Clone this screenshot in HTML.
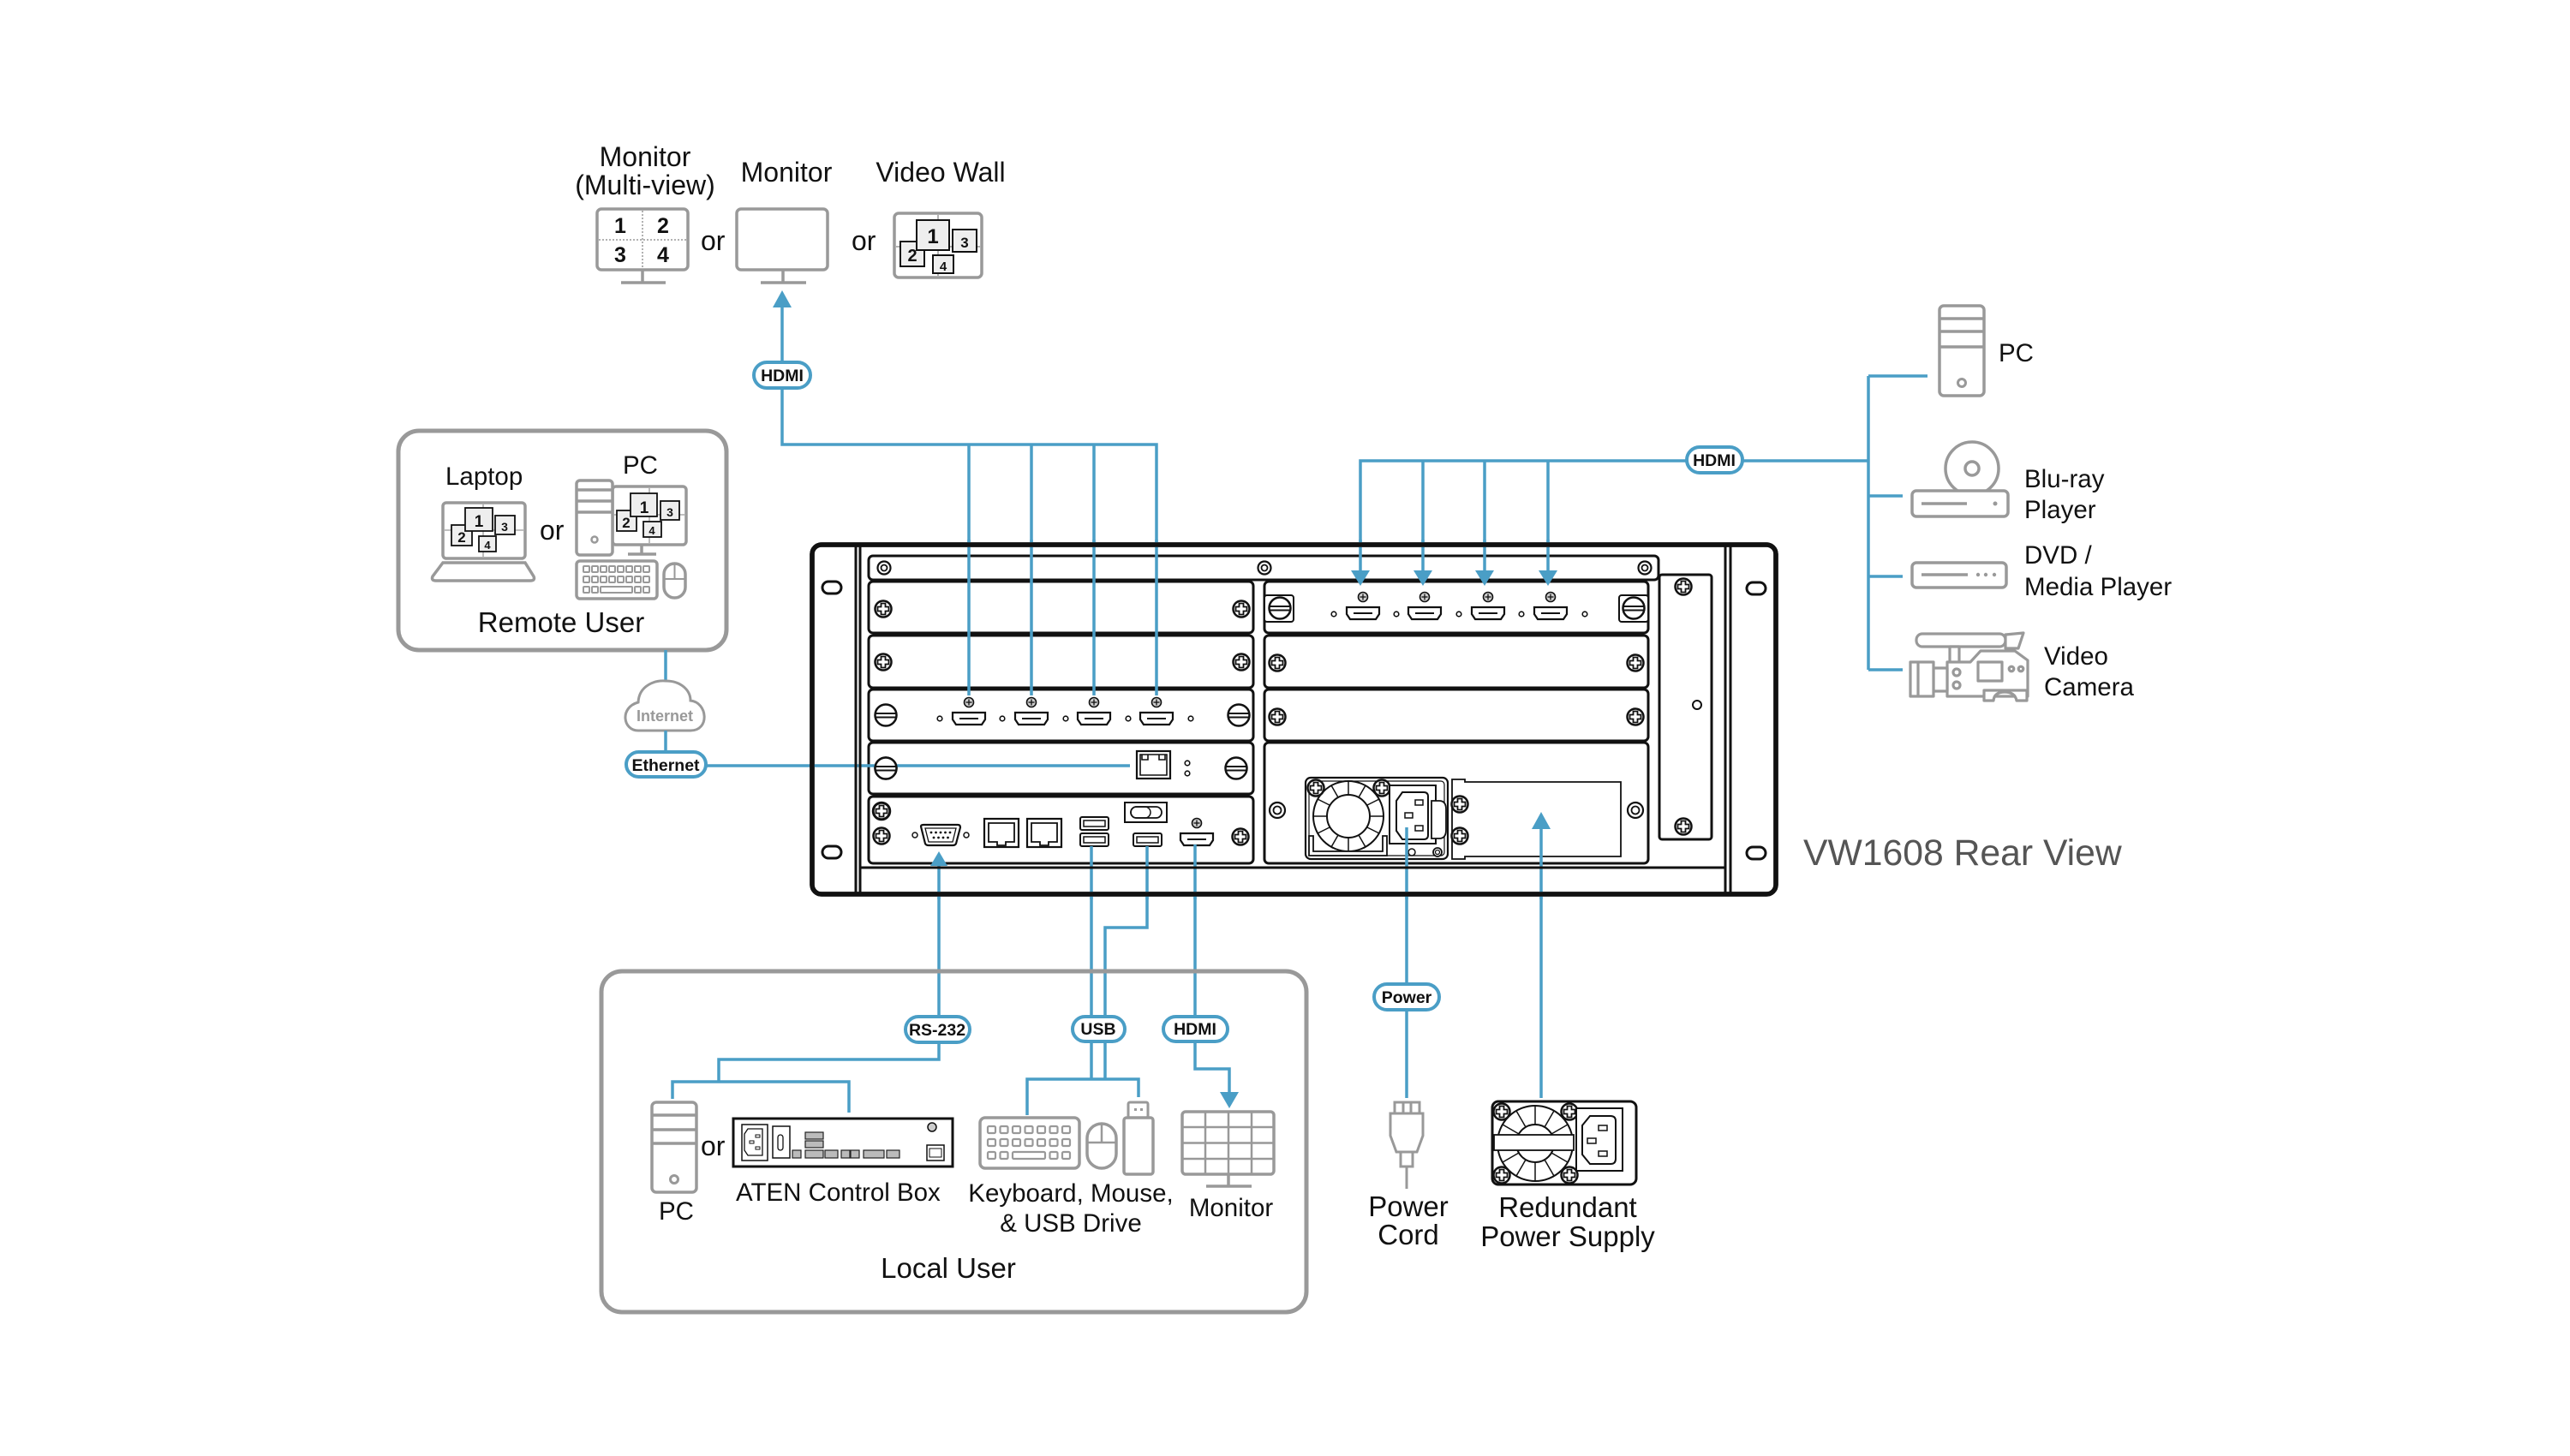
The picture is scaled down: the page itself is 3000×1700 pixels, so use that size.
<!DOCTYPE html>
<html><head><meta charset="utf-8"><style>
html,body{margin:0;padding:0;background:#fff;}
svg{display:block;}
</style></head><body>
<svg width="3000" height="1700" viewBox="0 0 3000 1700" xmlns="http://www.w3.org/2000/svg" xmlns:xlink="http://www.w3.org/1999/xlink" font-family="'Liberation Sans', Arial, sans-serif">
<defs>
  <g id="ps"><circle r="9.5" fill="#fff" stroke="#111" stroke-width="2.5"/><path d="M-2.5,-6.5H2.5V-2.5H6.5V2.5H2.5V6.5H-2.5V2.5H-6.5V-2.5H-2.5Z" fill="none" stroke="#111" stroke-width="1.8"/></g>
  <g id="fs"><circle r="12.5" fill="#fff" stroke="#111" stroke-width="2.5"/><line x1="-12.5" y1="-2" x2="12.5" y2="-2" stroke="#111" stroke-width="2"/><line x1="-12.5" y1="2.5" x2="12.5" y2="2.5" stroke="#111" stroke-width="2"/></g>
  <g id="rs"><circle r="7.5" fill="#fff" stroke="#111" stroke-width="2.2"/><circle r="3.5" fill="none" stroke="#111" stroke-width="1.8"/></g>
  <g id="hd"><path d="M-19,0H19V8L15,14H-15L-19,8Z" fill="#fff" stroke="#111" stroke-width="2.2"/><line x1="-11" y1="7" x2="11" y2="7" stroke="#111" stroke-width="2"/></g>
  <g id="ss"><circle r="5.5" fill="#ccc" stroke="#111" stroke-width="1.6"/><line x1="-3.5" y1="0" x2="3.5" y2="0" stroke="#111" stroke-width="1.3"/><line x1="0" y1="-3.5" x2="0" y2="3.5" stroke="#111" stroke-width="1.3"/></g>
  <g id="dt"><circle r="2.8" fill="#fff" stroke="#111" stroke-width="1.6"/></g>
  <g id="rj"><rect x="0" y="0" width="40" height="33" fill="#fff" stroke="#111" stroke-width="2.2"/><path d="M5,5H35V27H25V31H15V27H5Z" fill="none" stroke="#111" stroke-width="1.8"/></g>
</defs>

<!-- ================= TOP DISPLAYS ================= -->
<g font-size="32" fill="#111" text-anchor="middle">
  <text x="753" y="194">Monitor</text>
  <text x="753" y="227">(Multi-view)</text>
  <text x="918" y="212">Monitor</text>
  <text x="1098" y="212">Video Wall</text>
</g>
<text x="818" y="292" font-size="32" fill="#111">or</text>
<text x="994" y="292" font-size="32" fill="#111">or</text>

<g stroke="#999" stroke-width="3.5" fill="none">
  <rect x="697" y="244" width="106" height="71" rx="5" fill="#fff"/>
  <line x1="750" y1="315" x2="750" y2="330"/>
  <line x1="725" y1="330" x2="777" y2="330"/>
  <rect x="860" y="244" width="106" height="71" rx="5" fill="#fff"/>
  <line x1="914" y1="315" x2="914" y2="330"/>
  <line x1="888" y1="330" x2="941" y2="330"/>
</g>
<g stroke="#999" stroke-width="1.5" stroke-dasharray="2 2">
  <line x1="750" y1="246" x2="750" y2="313"/>
  <line x1="699" y1="280" x2="801" y2="280"/>
</g>
<g font-size="25" font-weight="bold" fill="#111" text-anchor="middle">
  <text x="724" y="272">1</text><text x="774" y="272">2</text>
  <text x="724" y="306">3</text><text x="774" y="306">4</text>
</g>

<rect x="1044" y="249" width="102" height="75" rx="5" fill="#fff" stroke="#999" stroke-width="3.5"/>
<line x1="1095" y1="251" x2="1095" y2="322" stroke="#999" stroke-width="1.5"/>
<line x1="1046" y1="288" x2="1144" y2="288" stroke="#999" stroke-width="1.5"/>
<g stroke="#111" stroke-width="2" fill="#eee">
  <rect x="1051" y="282" width="28" height="29"/>
  <rect x="1070" y="257" width="38" height="35"/>
  <rect x="1112" y="268" width="28" height="26"/>
  <rect x="1089" y="298" width="24" height="21"/>
</g>
<g font-weight="bold" fill="#111" text-anchor="middle">
  <text x="1089" y="284" font-size="24">1</text>
  <text x="1065" y="305" font-size="20">2</text>
  <text x="1126" y="289" font-size="17">3</text>
  <text x="1101" y="316" font-size="15">4</text>
</g>

<!-- ================= REMOTE USER ================= -->
<rect x="465" y="503" width="383" height="256" rx="24" fill="none" stroke="#999" stroke-width="5"/>
<text x="520" y="566" font-size="29.5" fill="#111">Laptop</text>
<text x="727" y="553" font-size="29.5" fill="#111">PC</text>
<text x="630" y="630" font-size="32" fill="#111">or</text>
<text x="655" y="738" font-size="33" fill="#111" text-anchor="middle">Remote User</text>

<g stroke="#999" stroke-width="3.5" fill="#fff">
  <rect x="517" y="587" width="96" height="65" rx="4"/>
  <path d="M517,657H613L623,673Q625,678 619,678H509Q503,678 505,673Z"/>
</g>
<line x1="564" y1="589" x2="564" y2="650" stroke="#999" stroke-width="1.3"/>
<line x1="519" y1="619" x2="611" y2="619" stroke="#999" stroke-width="1.3"/>
<g stroke="#111" stroke-width="1.8" fill="#eee">
  <rect x="527" y="613" width="24" height="24"/>
  <rect x="543" y="593" width="32" height="27"/>
  <rect x="578" y="602" width="23" height="22"/>
  <rect x="559" y="626" width="20" height="18"/>
</g>
<g font-weight="bold" fill="#111" text-anchor="middle">
  <text x="559" y="615" font-size="19">1</text>
  <text x="539" y="633" font-size="17">2</text>
  <text x="589" y="620" font-size="14">3</text>
  <text x="569" y="641" font-size="13">4</text>
</g>

<g stroke="#999" stroke-width="3.5" fill="#fff">
  <rect x="715" y="568" width="86" height="68" rx="4"/>
  <line x1="749" y1="636" x2="749" y2="647"/>
  <line x1="733" y1="647" x2="766" y2="647"/>
  <rect x="673" y="561" width="42" height="87" rx="4"/>
  <line x1="673" y1="572" x2="715" y2="572"/>
  <line x1="673" y1="585" x2="715" y2="585"/>
  <line x1="673" y1="598" x2="715" y2="598"/>
  <circle cx="694" cy="630" r="3.5" stroke-width="2.5"/>
  <rect x="673" y="655" width="94" height="44" rx="4"/>
  <rect x="775" y="658" width="25" height="40" rx="12.5"/>
  <line x1="787.5" y1="658" x2="787.5" y2="676" stroke-width="2"/>
  <line x1="775" y1="676" x2="800" y2="676" stroke-width="2"/>
</g>
<line x1="758" y1="570" x2="758" y2="634" stroke="#999" stroke-width="1.3"/>
<line x1="717" y1="601" x2="799" y2="601" stroke="#999" stroke-width="1.3"/>
<g stroke="#111" stroke-width="1.8" fill="#eee">
  <rect x="720" y="596" width="23" height="24"/>
  <rect x="736" y="576" width="31" height="27"/>
  <rect x="771" y="585" width="22" height="22"/>
  <rect x="751" y="609" width="21" height="18"/>
</g>
<g font-weight="bold" fill="#111" text-anchor="middle">
  <text x="752" y="599" font-size="19">1</text>
  <text x="731" y="616" font-size="17">2</text>
  <text x="782" y="603" font-size="14">3</text>
  <text x="761" y="624" font-size="13">4</text>
</g>
<g fill="none" stroke="#999" stroke-width="2">
  <rect x="681" y="661" width="7" height="7" rx="1"/><rect x="691" y="661" width="7" height="7" rx="1"/><rect x="701" y="661" width="7" height="7" rx="1"/><rect x="711" y="661" width="7" height="7" rx="1"/><rect x="721" y="661" width="7" height="7" rx="1"/><rect x="731" y="661" width="7" height="7" rx="1"/><rect x="741" y="661" width="7" height="7" rx="1"/><rect x="751" y="661" width="7" height="7" rx="1"/>
  <rect x="681" y="673" width="7" height="7" rx="1"/><rect x="691" y="673" width="7" height="7" rx="1"/><rect x="701" y="673" width="7" height="7" rx="1"/><rect x="711" y="673" width="7" height="7" rx="1"/><rect x="721" y="673" width="7" height="7" rx="1"/><rect x="731" y="673" width="7" height="7" rx="1"/><rect x="741" y="673" width="7" height="7" rx="1"/><rect x="751" y="673" width="7" height="7" rx="1"/>
  <rect x="681" y="685" width="7" height="7" rx="1"/><rect x="691" y="685" width="7" height="7" rx="1"/><rect x="701" y="685" width="37" height="7" rx="1"/><rect x="741" y="685" width="7" height="7" rx="1"/><rect x="751" y="685" width="7" height="7" rx="1"/>
</g>

<line x1="777" y1="759" x2="777" y2="797" stroke="#4a9ec6" stroke-width="3.5"/>
<path d="M745,853 C727,853 723,826 745,820 C746,800 765,794 777,795 C795,795 806,806 806,818 C826,820 829,853 806,853 Z" fill="#fff" stroke="#999" stroke-width="3"/>
<text x="776" y="842" font-size="18" font-weight="bold" fill="#999" text-anchor="middle">Internet</text>
<line x1="777" y1="853" x2="777" y2="880" stroke="#4a9ec6" stroke-width="3.5"/>

<!-- ================= BLUE CONNECTORS ================= -->
<g stroke="#4a9ec6" stroke-width="3.5" fill="none">
  <polyline points="913,357 913,519 1350,519 1350,812"/>
  <line x1="1131" y1="519" x2="1131" y2="812"/>
  <line x1="1204" y1="519" x2="1204" y2="812"/>
  <line x1="1277" y1="519" x2="1277" y2="812"/>
  <line x1="824" y1="894" x2="1319" y2="894"/>
  <polyline points="1588,670 1588,538 2181,538"/>
  <line x1="1661" y1="538" x2="1661" y2="670"/>
  <line x1="1733" y1="538" x2="1733" y2="670"/>
  <line x1="1807" y1="538" x2="1807" y2="670"/>
  <line x1="2181" y1="439" x2="2181" y2="782"/>
  <line x1="2181" y1="439" x2="2250" y2="439"/>
  <line x1="2181" y1="579" x2="2221" y2="579"/>
  <line x1="2181" y1="673" x2="2221" y2="673"/>
  <line x1="2181" y1="782" x2="2221" y2="782"/>
  <polyline points="1096,1005 1096,1237 839,1237 839,1263"/>
  <polyline points="785,1283 785,1263 991,1263 991,1299"/>
  <line x1="1274" y1="988" x2="1274" y2="1260"/>
  <polyline points="1339,988 1339,1083 1290,1083 1290,1260"/>
  <polyline points="1199,1302 1199,1260 1329,1260 1329,1281"/>
  <polyline points="1395,986 1395,1248 1435,1248 1435,1280"/>
  <line x1="1642" y1="968" x2="1642" y2="1282"/>
  <line x1="1799" y1="962" x2="1799" y2="1282"/>
</g>
<g fill="#4a9ec6">
  <polygon points="913,339 902,359 924,359"/>
  <polygon points="1435,1294 1424,1275 1446,1275"/>
</g>

<!-- ================= CHASSIS ================= -->
<g stroke="#111" fill="none">
  <rect x="948" y="636" width="1125" height="408" rx="11" stroke-width="5.5" fill="#fff"/>
  <line x1="999" y1="636" x2="999" y2="1044" stroke-width="3"/>
  <line x1="1004" y1="636" x2="1004" y2="1044" stroke-width="3"/>
  <line x1="2014" y1="636" x2="2014" y2="1044" stroke-width="3"/>
  <line x1="2020" y1="636" x2="2020" y2="1044" stroke-width="3"/>
  <line x1="1004" y1="1013" x2="2014" y2="1013" stroke-width="3"/>
  <rect x="960" y="679" width="22" height="14" rx="7" stroke-width="3"/>
  <rect x="960" y="988" width="22" height="14" rx="7" stroke-width="3"/>
  <rect x="2039" y="680" width="22" height="14" rx="7" stroke-width="3"/>
  <rect x="2039" y="989" width="22" height="14" rx="7" stroke-width="3"/>
  <rect x="1014" y="649" width="922" height="28" rx="5" stroke-width="3"/>
  <rect x="1014" y="679" width="449" height="60" rx="5" stroke-width="3"/>
  <rect x="1014" y="742" width="449" height="61" rx="5" stroke-width="3"/>
  <rect x="1014" y="805" width="449" height="60" rx="5" stroke-width="3"/>
  <rect x="1014" y="867" width="449" height="60" rx="5" stroke-width="3"/>
  <rect x="1014" y="930" width="449" height="78" rx="5" stroke-width="3"/>
  <rect x="1476" y="679" width="448" height="60" rx="5" stroke-width="3"/>
  <rect x="1476" y="742" width="448" height="61" rx="5" stroke-width="3"/>
  <rect x="1476" y="805" width="448" height="60" rx="5" stroke-width="3"/>
  <rect x="1476" y="867" width="448" height="141" rx="5" stroke-width="3"/>
  <rect x="1937" y="671" width="61" height="309" rx="3" stroke-width="3"/>
  <circle cx="1981" cy="823" r="5" stroke-width="2"/>
</g>
<use xlink:href="#rs" x="1032" y="663"/>
<use xlink:href="#rs" x="1476" y="663"/>
<use xlink:href="#rs" x="1920" y="663"/>
<use xlink:href="#ps" x="1965" y="685"/>
<use xlink:href="#ps" x="1965" y="965"/>

<use xlink:href="#ps" x="1031" y="711"/><use xlink:href="#ps" x="1449" y="711"/>
<use xlink:href="#ps" x="1031" y="773"/><use xlink:href="#ps" x="1449" y="773"/>
<use xlink:href="#fs" x="1034" y="835"/><use xlink:href="#fs" x="1446" y="835"/>
<use xlink:href="#hd" x="1131" y="832"/><use xlink:href="#hd" x="1204" y="832"/><use xlink:href="#hd" x="1277" y="832"/><use xlink:href="#hd" x="1350" y="832"/>
<use xlink:href="#ss" x="1131" y="820"/><use xlink:href="#ss" x="1204" y="820"/><use xlink:href="#ss" x="1277" y="820"/><use xlink:href="#ss" x="1350" y="820"/>
<use xlink:href="#dt" x="1097" y="839"/><use xlink:href="#dt" x="1170" y="839"/><use xlink:href="#dt" x="1244" y="839"/><use xlink:href="#dt" x="1317" y="839"/><use xlink:href="#dt" x="1390" y="839"/>
<use xlink:href="#fs" x="1034" y="897"/><use xlink:href="#fs" x="1443" y="897"/>
<rect x="1327" y="877" width="39" height="32" fill="#fff" stroke="#111" stroke-width="2.2"/>
<path d="M1331,881H1362V905H1331Z M1333,881V887H1340V881 M1353,881V887H1360V881" fill="none" stroke="#111" stroke-width="1.6"/>
<use xlink:href="#dt" x="1386" y="891"/><use xlink:href="#dt" x="1386" y="903"/>
<g><circle cx="1029" cy="947" r="10" fill="#fff" stroke="#111" stroke-width="2.5"/></g>
<use xlink:href="#ps" x="1029" y="947"/>
<use xlink:href="#ps" x="1029" y="976"/>
<use xlink:href="#ps" x="1448" y="977"/>
<path d="M1075,965Q1075,963 1078,963H1118Q1121,963 1121,966L1116,985Q1115,987 1112,987H1084Q1081,987 1080,985Z" fill="#fff" stroke="#111" stroke-width="2.2"/>
<path d="M1080,967H1116L1112,983H1084Z" fill="none" stroke="#111" stroke-width="1.3"/>
<g fill="#111"><circle cx="1087" cy="972" r="1.4"/><circle cx="1092.5" cy="972" r="1.4"/><circle cx="1098" cy="972" r="1.4"/><circle cx="1103.5" cy="972" r="1.4"/><circle cx="1109" cy="972" r="1.4"/><circle cx="1090" cy="978" r="1.4"/><circle cx="1095.5" cy="978" r="1.4"/><circle cx="1101" cy="978" r="1.4"/><circle cx="1106.5" cy="978" r="1.4"/></g>
<circle cx="1068" cy="975" r="3" fill="#fff" stroke="#111" stroke-width="1.5"/>
<circle cx="1128" cy="975" r="3" fill="#fff" stroke="#111" stroke-width="1.5"/>
<use xlink:href="#rj" x="1149" y="956"/>
<use xlink:href="#rj" x="1199" y="956"/>
<g fill="#fff" stroke="#111" stroke-width="2"><rect x="1261" y="954" width="33" height="15" rx="2"/><rect x="1261" y="973" width="33" height="15" rx="2"/></g>
<g fill="none" stroke="#111" stroke-width="1.5"><rect x="1265" y="958" width="25" height="7"/><rect x="1265" y="977" width="25" height="7"/></g>
<rect x="1313" y="937" width="49" height="23" fill="#fff" stroke="#111" stroke-width="2"/>
<rect x="1320" y="942" width="36" height="13" rx="6.5" fill="#fff" stroke="#111" stroke-width="1.8"/>
<rect x="1320" y="942" width="23" height="13" rx="6.5" fill="none" stroke="#111" stroke-width="1.5"/>
<rect x="1323" y="973" width="33" height="15" rx="2" fill="#fff" stroke="#111" stroke-width="2"/>
<rect x="1327" y="977" width="25" height="7" fill="none" stroke="#111" stroke-width="1.5"/>
<use xlink:href="#hd" x="1397" y="973"/>
<use xlink:href="#ss" x="1397" y="961"/>

<rect x="1476" y="695" width="34" height="31" rx="3" fill="#fff" stroke="#111" stroke-width="2"/>
<rect x="1890" y="695" width="34" height="31" rx="3" fill="#fff" stroke="#111" stroke-width="2"/>
<use xlink:href="#fs" x="1494" y="710"/><use xlink:href="#fs" x="1907" y="710"/>
<use xlink:href="#hd" x="1591" y="709"/><use xlink:href="#hd" x="1663" y="709"/><use xlink:href="#hd" x="1737" y="709"/><use xlink:href="#hd" x="1810" y="709"/>
<use xlink:href="#ss" x="1591" y="697"/><use xlink:href="#ss" x="1663" y="697"/><use xlink:href="#ss" x="1737" y="697"/><use xlink:href="#ss" x="1810" y="697"/>
<use xlink:href="#dt" x="1557" y="717"/><use xlink:href="#dt" x="1630" y="717"/><use xlink:href="#dt" x="1703" y="717"/><use xlink:href="#dt" x="1776" y="717"/><use xlink:href="#dt" x="1850" y="717"/>
<use xlink:href="#ps" x="1491" y="774"/><use xlink:href="#ps" x="1909" y="774"/>
<use xlink:href="#ps" x="1491" y="837"/><use xlink:href="#ps" x="1909" y="837"/>
<g><circle cx="1491" cy="946" r="9" fill="#fff" stroke="#111" stroke-width="2.2"/><circle cx="1491" cy="946" r="4.5" fill="none" stroke="#111" stroke-width="1.8"/></g>
<g><circle cx="1909" cy="946" r="9" fill="#fff" stroke="#111" stroke-width="2.2"/><circle cx="1909" cy="946" r="4.5" fill="none" stroke="#111" stroke-width="1.8"/></g>
<rect x="1524" y="908" width="166" height="95" rx="6" fill="#fff" stroke="#111" stroke-width="2.2"/>
<rect x="1528" y="912" width="158" height="87" rx="4" fill="none" stroke="#111" stroke-width="1.2"/>
<circle cx="1574" cy="953" r="41" fill="#fff" stroke="#111" stroke-width="2"/>
<circle cx="1574" cy="953" r="25" fill="#fff" stroke="#111" stroke-width="2"/>
<g stroke="#111" stroke-width="1.5">
  <line x1="1574" y1="928" x2="1574" y2="912"/><line x1="1586" y1="931" x2="1594" y2="917"/><line x1="1596" y1="940" x2="1610" y2="933"/><line x1="1599" y1="953" x2="1615" y2="953"/><line x1="1596" y1="966" x2="1610" y2="973"/><line x1="1586" y1="975" x2="1594" y2="989"/><line x1="1574" y1="978" x2="1574" y2="994"/><line x1="1562" y1="975" x2="1554" y2="989"/><line x1="1552" y1="966" x2="1538" y2="973"/><line x1="1549" y1="953" x2="1533" y2="953"/><line x1="1552" y1="940" x2="1538" y2="933"/><line x1="1562" y1="931" x2="1554" y2="917"/>
</g>
<path d="M1528,976H1533V994H1614V976H1619V999H1528Z" fill="#fff" stroke="#111" stroke-width="1.8"/>
<use xlink:href="#ps" x="1536" y="920"/><use xlink:href="#ps" x="1613" y="920"/>
<rect x="1622" y="917" width="54" height="68" fill="#fff" stroke="#111" stroke-width="2"/>
<path d="M1637,925H1662Q1667,925 1667,930V975Q1667,980 1662,980H1637L1630,970V935Z" fill="#fff" stroke="#111" stroke-width="2"/>
<g fill="#fff" stroke="#111" stroke-width="1.5"><rect x="1652" y="934" width="9" height="6"/><rect x="1640" y="949" width="9" height="6"/><rect x="1652" y="964" width="9" height="6"/></g>
<path d="M1671,935H1680Q1688,935 1688,945V969Q1688,979 1680,979H1671Z" fill="#fff" stroke="#111" stroke-width="1.8"/>
<circle cx="1648" cy="995" r="4" fill="#fff" stroke="#111" stroke-width="1.5"/>
<circle cx="1678" cy="995" r="5" fill="#fff" stroke="#111" stroke-width="1.8"/><circle cx="1678" cy="995" r="2.5" fill="none" stroke="#111" stroke-width="1.3"/>
<path d="M1695,910H1710V913H1892V1000H1710V1003H1695Z" fill="#fff" stroke="#111" stroke-width="1.8"/>
<use xlink:href="#ps" x="1704" y="939"/><use xlink:href="#ps" x="1704" y="976"/>

<g stroke="#4a9ec6" stroke-width="3.5">
  <line x1="1799" y1="966" x2="1799" y2="1050"/>
  <line x1="1642" y1="966" x2="1642" y2="1050"/>
  <line x1="1131" y1="630" x2="1131" y2="812"/>
  <line x1="1204" y1="630" x2="1204" y2="812"/>
  <line x1="1277" y1="630" x2="1277" y2="812"/>
  <line x1="1350" y1="630" x2="1350" y2="812"/>
  <line x1="1588" y1="630" x2="1588" y2="670"/>
  <line x1="1661" y1="630" x2="1661" y2="670"/>
  <line x1="1733" y1="630" x2="1733" y2="670"/>
  <line x1="1807" y1="630" x2="1807" y2="670"/>
  <line x1="948" y1="894" x2="1319" y2="894"/>
  <line x1="1096" y1="1005" x2="1096" y2="1050"/>
  <line x1="1274" y1="988" x2="1274" y2="1050"/>
  <line x1="1339" y1="988" x2="1339" y2="1050"/>
  <line x1="1395" y1="986" x2="1395" y2="1050"/>
</g>
<g fill="#4a9ec6">
  <polygon points="1588,684 1577,666 1599,666"/>
  <polygon points="1661,684 1650,666 1672,666"/>
  <polygon points="1733,684 1722,666 1744,666"/>
  <polygon points="1807,684 1796,666 1818,666"/>
  <polygon points="1799,948 1788,968 1810,968"/>
  <polygon points="1096,994 1086,1011 1106,1011"/>
</g>
<rect x="948" y="636" width="1125" height="408" rx="11" stroke="#111" stroke-width="5.5" fill="none"/>
<g stroke="#111" stroke-width="3"><line x1="999" y1="636" x2="999" y2="1044"/><line x1="1004" y1="636" x2="1004" y2="1044"/><line x1="1004" y1="1013" x2="2014" y2="1013"/></g>
<use xlink:href="#fs" x="1034" y="897"/>

<text x="2105" y="1010" font-size="42.7" fill="#555">VW1608 Rear View</text>

<!-- ================= SOURCES (right) ================= -->
<g stroke="#999" stroke-width="3.5" fill="#fff">
  <rect x="2264" y="357" width="52" height="105" rx="5"/>
  <line x1="2264" y1="372" x2="2316" y2="372"/>
  <line x1="2264" y1="387" x2="2316" y2="387"/>
  <line x1="2264" y1="405" x2="2316" y2="405"/>
  <circle cx="2290" cy="447" r="4.5" stroke-width="3"/>
  <circle cx="2302" cy="547" r="31"/>
  <circle cx="2302" cy="547" r="8"/>
  <rect x="2232" y="573" width="112" height="30" rx="5"/>
  <line x1="2243" y1="588" x2="2296" y2="588"/>
  <rect x="2232" y="657" width="110" height="29" rx="5"/>
  <line x1="2243" y1="671" x2="2297" y2="671"/>
</g>
<g fill="#999"><circle cx="2329" cy="588" r="2.5"/><circle cx="2309" cy="671" r="2.2"/><circle cx="2318" cy="671" r="2.2"/><circle cx="2328" cy="671" r="2.2"/></g>
<g stroke="#999" stroke-width="3.2" fill="#fff" stroke-linejoin="round">
  <rect x="2237" y="740" width="104" height="15" rx="7"/>
  <path d="M2341,741L2362,739L2356,757H2341Z"/>
  <rect x="2276" y="755" width="11" height="19"/>
  <path d="M2273,773H2300L2312,760H2352L2367,771V813H2273Z"/>
  <rect x="2257" y="780" width="16" height="27"/>
  <rect x="2230" y="773" width="27" height="40"/>
  <line x1="2239" y1="773" x2="2239" y2="813"/>
  <rect x="2309" y="773" width="28" height="22"/>
  <circle cx="2284" cy="785" r="4"/>
  <circle cx="2284" cy="800" r="4"/>
  <circle cx="2348" cy="781" r="2.8"/>
  <circle cx="2359" cy="781" r="2.8"/>
  <path d="M2316,818V806H2366V818H2354Q2352,808 2340,808Q2328,808 2327,818Z"/>
</g>
<g font-size="29.5" fill="#111">
  <text x="2333" y="422">PC</text>
  <text x="2363" y="569">Blu-ray</text>
  <text x="2363" y="605">Player</text>
  <text x="2363" y="658">DVD /</text>
  <text x="2363" y="695">Media Player</text>
  <text x="2386" y="776">Video</text>
  <text x="2386" y="812">Camera</text>
</g>

<!-- ================= LOCAL USER ================= -->
<rect x="702" y="1134" width="823" height="398" rx="24" fill="none" stroke="#999" stroke-width="5"/>
<g stroke="#999" stroke-width="3.5" fill="#fff">
  <rect x="761" y="1287" width="52" height="105" rx="5"/>
  <line x1="761" y1="1302" x2="813" y2="1302"/>
  <line x1="761" y1="1319" x2="813" y2="1319"/>
  <line x1="761" y1="1335" x2="813" y2="1335"/>
  <circle cx="787" cy="1377" r="4.5" stroke-width="3"/>
</g>
<rect x="856" y="1306" width="256" height="56" fill="#fff" stroke="#111" stroke-width="3"/>
<rect x="866" y="1313" width="30" height="42" fill="#fff" stroke="#111" stroke-width="1.5"/>
<path d="M873,1318H890V1349H873L869,1343V1324Z" fill="none" stroke="#111" stroke-width="1.3"/>
<g fill="none" stroke="#111" stroke-width="1"><rect x="882" y="1325" width="5" height="3"/><rect x="875" y="1332" width="5" height="3"/><rect x="882" y="1339" width="5" height="3"/></g>
<rect x="902" y="1315" width="20" height="37" fill="#fff" stroke="#111" stroke-width="1.5"/>
<rect x="908" y="1325" width="6" height="18" rx="3" fill="none" stroke="#111" stroke-width="1.3"/>
<g fill="#bbb" stroke="#222" stroke-width="1.2">
  <rect x="925" y="1343" width="10" height="9"/>
  <rect x="940" y="1343" width="21" height="9"/>
  <rect x="940" y="1332" width="21" height="8"/>
  <rect x="940" y="1322" width="21" height="8"/>
  <rect x="963" y="1343" width="15" height="9"/>
  <rect x="982" y="1343" width="10" height="9"/>
  <rect x="993" y="1343" width="10" height="9"/>
  <rect x="1008" y="1343" width="24" height="9"/>
  <rect x="1035" y="1343" width="15" height="9"/>
</g>
<circle cx="1088" cy="1316" r="5" fill="#ccc" stroke="#111" stroke-width="1.5"/>
<rect x="1082" y="1337" width="20" height="18" fill="#fff" stroke="#111" stroke-width="1.5"/>
<path d="M1085,1341H1099V1351H1085Z" fill="none" stroke="#111" stroke-width="1"/>
<g stroke="#999" stroke-width="3.5" fill="#fff">
  <rect x="1144" y="1305" width="116" height="59" rx="6"/>
  <rect x="1269" y="1312" width="34" height="52" rx="17"/>
  <line x1="1286" y1="1312" x2="1286" y2="1334" stroke-width="2.5"/>
  <line x1="1269" y1="1334" x2="1303" y2="1334" stroke-width="2.5"/>
  <rect x="1317" y="1287" width="23" height="18" rx="2" stroke-width="3"/>
  <rect x="1312" y="1305" width="34" height="66" rx="3"/>
  <rect x="1380" y="1298" width="107" height="73" rx="4"/>
  <line x1="1407" y1="1298" x2="1407" y2="1371" stroke-width="2.5"/>
  <line x1="1434" y1="1298" x2="1434" y2="1371" stroke-width="2.5"/>
  <line x1="1461" y1="1298" x2="1461" y2="1371" stroke-width="2.5"/>
  <line x1="1380" y1="1316" x2="1487" y2="1316" stroke-width="2.5"/>
  <line x1="1380" y1="1334.5" x2="1487" y2="1334.5" stroke-width="2.5"/>
  <line x1="1380" y1="1353" x2="1487" y2="1353" stroke-width="2.5"/>
  <line x1="1434" y1="1371" x2="1434" y2="1385"/>
  <line x1="1408" y1="1385" x2="1461" y2="1385"/>
</g>
<g fill="#999"><rect x="1324" y="1294" width="3" height="3"/><rect x="1331" y="1294" width="3" height="3"/></g>
<g fill="none" stroke="#999" stroke-width="2.2">
  <rect x="1153" y="1315" width="9" height="8" rx="1.5"/><rect x="1167.5" y="1315" width="9" height="8" rx="1.5"/><rect x="1182" y="1315" width="9" height="8" rx="1.5"/><rect x="1196.5" y="1315" width="9" height="8" rx="1.5"/><rect x="1211" y="1315" width="9" height="8" rx="1.5"/><rect x="1225.5" y="1315" width="9" height="8" rx="1.5"/><rect x="1240" y="1315" width="9" height="8" rx="1.5"/>
  <rect x="1153" y="1330" width="9" height="8" rx="1.5"/><rect x="1167.5" y="1330" width="9" height="8" rx="1.5"/><rect x="1182" y="1330" width="9" height="8" rx="1.5"/><rect x="1196.5" y="1330" width="9" height="8" rx="1.5"/><rect x="1211" y="1330" width="9" height="8" rx="1.5"/><rect x="1225.5" y="1330" width="9" height="8" rx="1.5"/><rect x="1240" y="1330" width="9" height="8" rx="1.5"/>
  <rect x="1153" y="1345" width="9" height="8" rx="1.5"/><rect x="1167.5" y="1345" width="9" height="8" rx="1.5"/><rect x="1182" y="1345" width="38" height="8" rx="1.5"/><rect x="1225.5" y="1345" width="9" height="8" rx="1.5"/><rect x="1240" y="1345" width="9" height="8" rx="1.5"/>
</g>
<g font-size="29.5" fill="#111">
  <text x="769" y="1424">PC</text>
  <text x="859" y="1402">ATEN Control Box</text>
  <text x="1250" y="1403" text-anchor="middle">Keyboard, Mouse,</text>
  <text x="1250" y="1438" text-anchor="middle">&amp; USB Drive</text>
  <text x="1437" y="1420" text-anchor="middle">Monitor</text>
</g>
<text x="818" y="1349" font-size="32" fill="#111">or</text>
<text x="1107" y="1492" font-size="33" fill="#111" text-anchor="middle">Local User</text>

<!-- ================= POWER ================= -->
<g stroke="#999" stroke-width="3" fill="#fff">
  <rect x="1628" y="1287" width="29" height="13"/>
  <line x1="1638" y1="1287" x2="1638" y2="1300"/>
  <line x1="1647" y1="1287" x2="1647" y2="1300"/>
  <path d="M1623,1300H1661V1326L1654,1345H1630L1623,1326Z"/>
  <rect x="1635" y="1345" width="14" height="17"/>
  <line x1="1642" y1="1362" x2="1642" y2="1388"/>
</g>
<rect x="1742" y="1286" width="168" height="97" rx="7" fill="#fff" stroke="#111" stroke-width="3"/>
<circle cx="1792" cy="1335" r="44" fill="#fff" stroke="#111" stroke-width="2"/>
<circle cx="1792" cy="1335" r="22" fill="#fff" stroke="#111" stroke-width="2"/>
<g stroke="#111" stroke-width="1.5">
  <line x1="1792" y1="1313" x2="1792" y2="1291"/><line x1="1803" y1="1316" x2="1814" y2="1297"/><line x1="1811" y1="1324" x2="1830" y2="1313"/><line x1="1811" y1="1346" x2="1830" y2="1357"/><line x1="1803" y1="1354" x2="1814" y2="1373"/><line x1="1792" y1="1357" x2="1792" y2="1379"/><line x1="1781" y1="1354" x2="1770" y2="1373"/><line x1="1773" y1="1346" x2="1754" y2="1357"/><line x1="1773" y1="1324" x2="1754" y2="1313"/><line x1="1781" y1="1316" x2="1770" y2="1297"/>
</g>
<rect x="1744" y="1325" width="93" height="18" fill="#fff" stroke="#111" stroke-width="1.8"/>
<use xlink:href="#ps" x="1753" y="1298"/><use xlink:href="#ps" x="1832" y="1298"/>
<use xlink:href="#ps" x="1753" y="1372"/><use xlink:href="#ps" x="1832" y="1372"/>
<rect x="1840" y="1294" width="54" height="73" fill="#fff" stroke="#111" stroke-width="2"/>
<path d="M1856,1303H1880Q1886,1303 1886,1309V1353Q1886,1359 1880,1359H1856L1847,1348V1314Z" fill="#fff" stroke="#111" stroke-width="2"/>
<g fill="#fff" stroke="#111" stroke-width="1.5"><rect x="1866" y="1314" width="10" height="6"/><rect x="1853" y="1329" width="10" height="6"/><rect x="1866" y="1344" width="10" height="6"/></g>
<g font-size="33" fill="#111" text-anchor="middle">
  <text x="1644" y="1420">Power</text>
  <text x="1644" y="1453">Cord</text>
  <text x="1830" y="1421">Redundant</text>
  <text x="1830" y="1455">Power Supply</text>
</g>

<!-- ================= LABEL PILLS ================= -->
<g fill="#fff" stroke="#4a9ec6" stroke-width="4">
  <rect x="880" y="423" width="66" height="30" rx="15"/>
  <rect x="1969" y="522" width="65" height="30" rx="15"/>
  <rect x="731" y="878" width="93" height="29" rx="14.5"/>
  <rect x="1057" y="1187" width="75" height="30" rx="15"/>
  <rect x="1252" y="1187" width="61" height="29" rx="14.5"/>
  <rect x="1358" y="1187" width="75" height="29" rx="14.5"/>
  <rect x="1604" y="1149" width="76" height="30" rx="15"/>
</g>
<g font-size="19.5" font-weight="bold" fill="#111" text-anchor="middle">
  <text x="913" y="445">HDMI</text>
  <text x="2001" y="544">HDMI</text>
  <text x="777" y="900">Ethernet</text>
  <text x="1094" y="1209">RS-232</text>
  <text x="1282" y="1208">USB</text>
  <text x="1395" y="1208">HDMI</text>
  <text x="1642" y="1171">Power</text>
</g>
</svg>
</body></html>
